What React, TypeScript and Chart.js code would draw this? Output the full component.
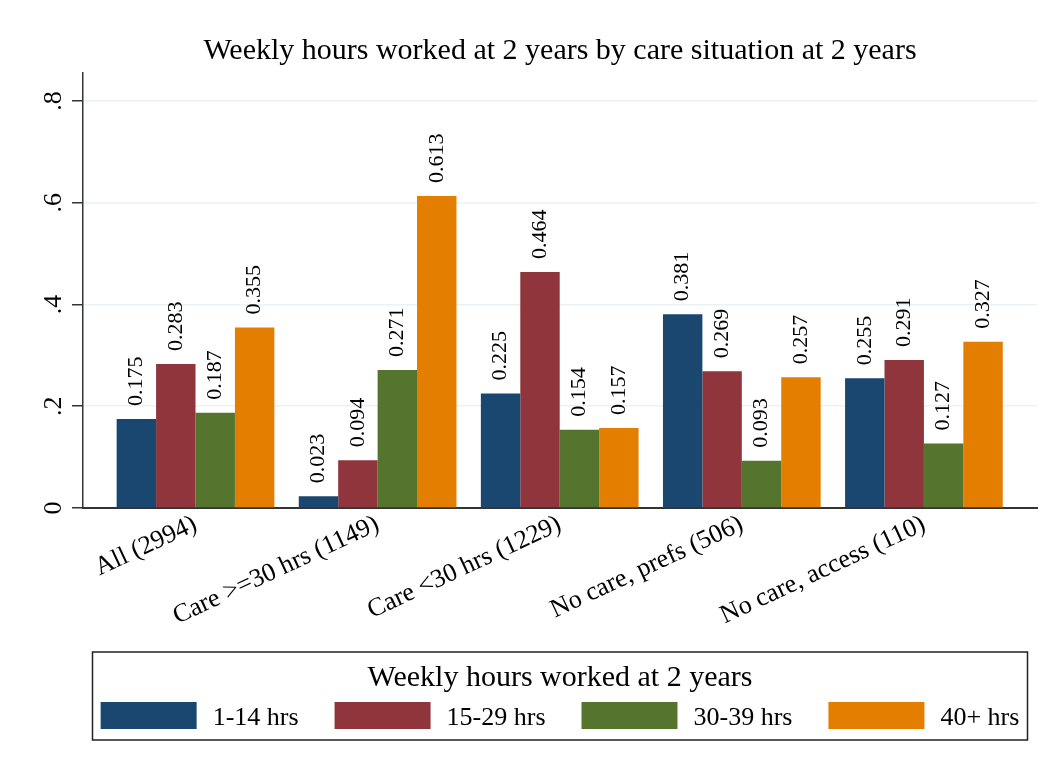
import React, { useEffect, useRef } from "react";
import { Chart, registerables } from "chart.js";

Chart.register(...registerables);

const chartTitle = "Weekly hours worked at 2 years by care situation at 2 years";
const legendTitle = "Weekly hours worked at 2 years";

const categories = [
  "All (2994)",
  "Care >=30 hrs (1149)",
  "Care <30 hrs (1229)",
  "No care, prefs (506)",
  "No care, access (110)",
];

const seriesLabels = ["1-14 hrs", "15-29 hrs", "30-39 hrs", "40+ hrs"];
const hrs1to14 = [0.175, 0.023, 0.225, 0.381, 0.255];
const hrs15to29 = [0.283, 0.094, 0.464, 0.269, 0.291];
const hrs30to39 = [0.187, 0.271, 0.154, 0.093, 0.127];
const hrs40plus = [0.355, 0.613, 0.157, 0.257, 0.327];
const seriesValues = [hrs1to14, hrs15to29, hrs30to39, hrs40plus];
const seriesColors = ["#1a476f", "#90353b", "#55752f", "#e37e00"];

const yTickValues = [0, 0.2, 0.4, 0.6, 0.8];
const yTickLabels = ["0", ".2", ".4", ".6", ".8"];
const yMin = 0;
const yMax = 0.855;
const xMin = -0.6178;
const xMax = 4.621;

const FONT = '"Liberation Serif", "Times New Roman", Times, serif';
const W = 1056;
const H = 771;

const decorPlugin = {
  id: "stataDecor",
  afterDatasetsDraw(chart: any) {
    const ctx = chart.ctx;
    ctx.save();
    ctx.fillStyle = "#000";
    ctx.font = `22px ${FONT}`;
    ctx.textAlign = "left";
    ctx.textBaseline = "middle";
    chart.data.datasets.forEach((_ds: any, di: number) => {
      const meta = chart.getDatasetMeta(di);
      meta.data.forEach((bar: any, i: number) => {
        const v = seriesValues[di][i];
        ctx.save();
        ctx.translate(bar.x, bar.y - 13);
        ctx.rotate(-Math.PI / 2);
        ctx.fillText(v.toFixed(3), 0, 0);
        ctx.restore();
      });
    });
    ctx.restore();
  },
  afterDraw(chart: any) {
    const ctx = chart.ctx;
    const area = chart.chartArea;
    const cx = (area.left + area.right) / 2;
    ctx.save();
    ctx.fillStyle = "#000";

    // title
    ctx.font = `30px ${FONT}`;
    ctx.textAlign = "center";
    ctx.textBaseline = "alphabetic";
    ctx.fillText(chartTitle, cx, 59);

    // y tick labels (rotated)
    const yScale = chart.scales.y;
    ctx.font = `26px ${FONT}`;
    yTickValues.forEach((v, i) => {
      const py = yScale.getPixelForValue(v);
      ctx.save();
      ctx.translate(61, py);
      ctx.rotate(-Math.PI / 2);
      ctx.textAlign = "center";
      ctx.textBaseline = "alphabetic";
      ctx.fillText(yTickLabels[i], 0, 0);
      ctx.restore();
    });

    // legend box
    const boxHalf = 467.5;
    const boxTop = 652;
    const boxBottom = 740;
    ctx.strokeStyle = "#222";
    ctx.lineWidth = 1.5;
    ctx.strokeRect(cx - boxHalf, boxTop, boxHalf * 2, boxBottom - boxTop);

    ctx.font = `30px ${FONT}`;
    ctx.textAlign = "center";
    ctx.fillText(legendTitle, cx, 686);

    ctx.font = `26px ${FONT}`;
    const swW = 96;
    const swH = 27;
    const swGap = 16;
    const itemGap = 36;
    const widths = seriesLabels.map((l) => swW + swGap + ctx.measureText(l).width);
    const total = widths.reduce((a, b) => a + b, 0) + itemGap * (seriesLabels.length - 1);
    let x = cx - total / 2;
    ctx.textAlign = "left";
    seriesLabels.forEach((l, i) => {
      ctx.fillStyle = seriesColors[i];
      ctx.fillRect(x, 702, swW, swH);
      ctx.fillStyle = "#000";
      ctx.fillText(l, x + swW + swGap, 725);
      x += widths[i] + itemGap;
    });
    ctx.restore();
  },
};

export default function App() {
  const canvasRef = useRef<HTMLCanvasElement | null>(null);

  useEffect(() => {
    document.body.style.margin = "0";
    document.body.style.background = "#fff";
    const canvas = canvasRef.current;
    if (!canvas) return;

    const datasets = seriesLabels.map((label, si) => ({
      label,
      data: seriesValues[si].map((v, i) => ({ x: i, y: v })),
      backgroundColor: seriesColors[si],
      borderWidth: 0,
      categoryPercentage: 0.866,
      barPercentage: 1.0,
    }));

    const chart = new Chart(canvas, {
      type: "bar",
      data: { datasets },
      options: {
        animation: false,
        responsive: false,
        maintainAspectRatio: false,
        layout: { padding: { left: 0, right: 19, top: 73, bottom: 0 } },
        plugins: {
          legend: { display: false },
          title: { display: false },
          tooltip: { enabled: false },
        },
        scales: {
          x: {
            type: "linear",
            min: xMin,
            max: xMax,
            offset: false,
            grid: { display: false, drawTicks: false },
            border: { display: true, color: "#333", width: 2 },
            afterBuildTicks: (scale: any) => {
              scale.ticks = categories.map((_c, i) => ({ value: i }));
            },
            afterFit: (scale: any) => {
              scale.height = H - 508;
            },
            ticks: {
              autoSkip: false,
              minRotation: 25,
              maxRotation: 25,
              padding: 1,
              color: "#000",
              font: { family: FONT, size: 26 },
              callback: (_v: any, i: number) => categories[i],
            },
          },
          y: {
            type: "linear",
            min: yMin,
            max: yMax,
            grid: {
              color: "#eaf2f3",
              lineWidth: 1.5,
              tickColor: "#333",
              tickLength: 11,
              drawTicks: true,
            },
            border: { display: true, color: "#333", width: 1.5 },
            afterBuildTicks: (scale: any) => {
              scale.ticks = yTickValues.map((v) => ({ value: v }));
            },
            afterFit: (scale: any) => {
              scale.width = 83;
            },
            ticks: { display: false },
          },
        },
      },
      plugins: [decorPlugin],
    } as any);

    return () => {
      chart.destroy();
    };
  }, []);

  return (
    <div style={{ width: W, height: H, background: "#fff" }}>
      <canvas ref={canvasRef} width={W} height={H} style={{ display: "block", width: W, height: H }} />
    </div>
  );
}
